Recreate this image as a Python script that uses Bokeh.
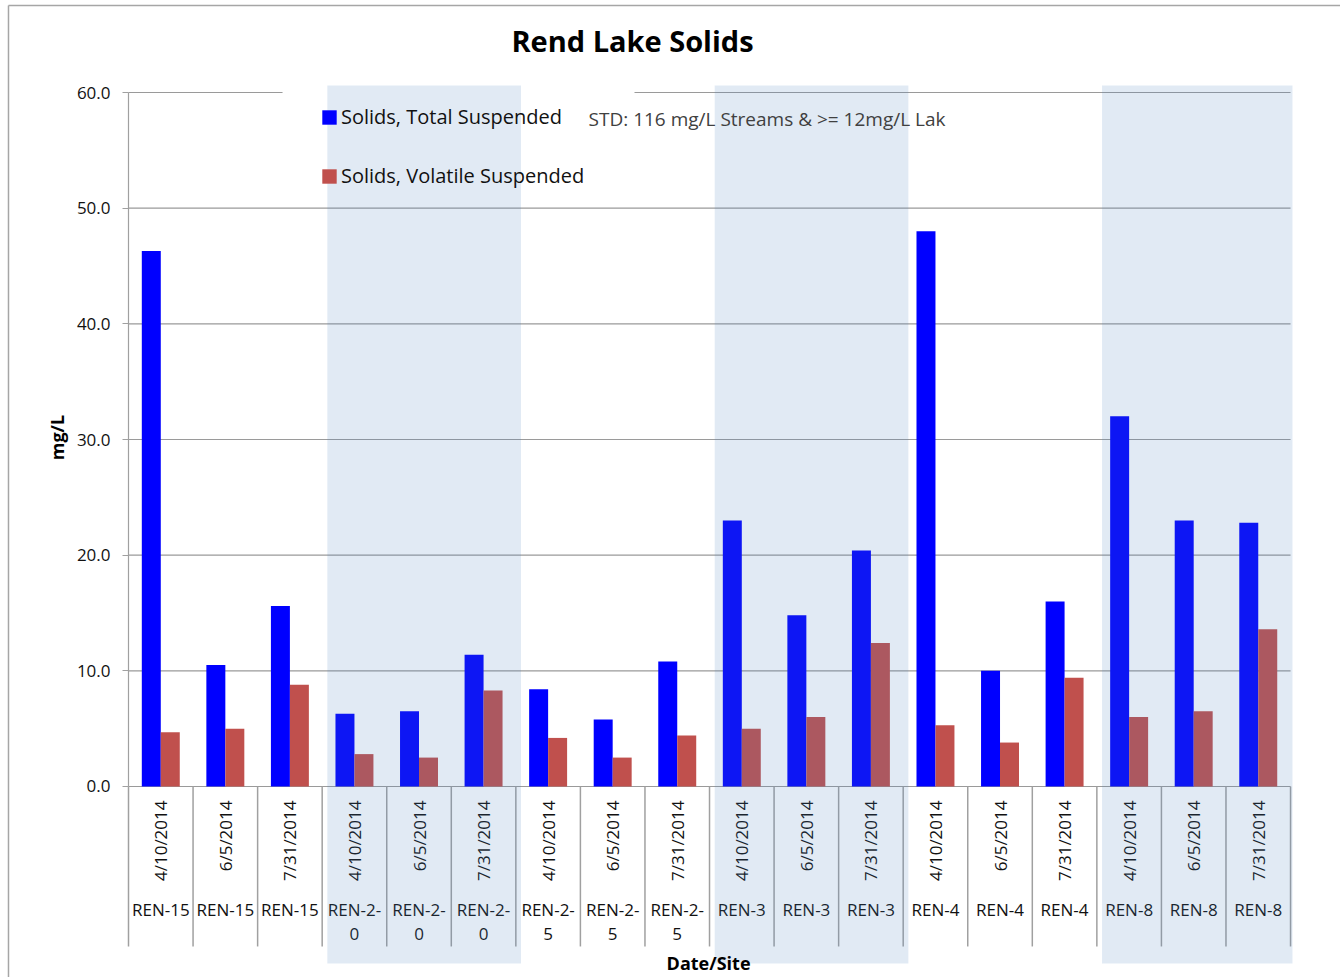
import math
from bokeh.plotting import figure
from bokeh.models import (ColumnDataSource, Range1d, FixedTicker, NumeralTickFormatter,
                          BoxAnnotation, Label, Legend, LegendItem)
from bokeh.core.properties import value
from bokeh.embed import file_html
from bokeh.resources import INLINE

sites = ["REN-15", "REN-15", "REN-15", "REN-2-\n0", "REN-2-\n0", "REN-2-\n0",
         "REN-2-\n5", "REN-2-\n5", "REN-2-\n5", "REN-3", "REN-3", "REN-3",
         "REN-4", "REN-4", "REN-4", "REN-8", "REN-8", "REN-8"]
dates = ["4/10/2014", "6/5/2014", "7/31/2014"] * 6
tss = [46.3, 10.5, 15.6, 6.3, 6.5, 11.4, 8.4, 5.8, 10.8,
       23.0, 14.8, 20.4, 48.0, 10.0, 16.0, 32.0, 23.0, 22.8]
vss = [4.7, 5.0, 8.8, 2.8, 2.5, 8.3, 4.2, 2.5, 4.4,
       5.0, 6.0, 12.4, 5.3, 3.8, 9.4, 6.0, 6.5, 13.6]
y_ticks = [0, 10, 20, 30, 40, 50, 60]
shaded_groups = [1, 3, 5]

FONT = "Open Sans"
n = len(tss)
centers = [i + 0.5 for i in range(n)]
bw = 0.294

src = ColumnDataSource(dict(
    xc=centers,
    x_tss=[c - bw / 2 for c in centers],
    x_vss=[c + bw / 2 for c in centers],
    tss=tss, vss=vss, site=sites, date=dates,
))

# the plotting frame covers the whole canvas; the value axis sits at x = 0
p = figure(width=1340, height=977, output_backend="svg", toolbar_location=None,
           x_range=Range1d(-1.9828, 18.774), y_range=Range1d(-16.513, 67.954),
           min_border=0)
p.outline_line_color = None
p.background_fill_color = "white"
p.border_fill_color = "white"

# axes
p.xaxis.visible = False
ya = p.yaxis[0]
ya.fixed_location = 0
ya.ticker = FixedTicker(ticks=y_ticks)
ya.formatter = NumeralTickFormatter(format="0.0")
ya.bounds = (0, 60)
ya.axis_line_color = "#a0a0a0"
ya.axis_line_width = 1.2
ya.major_tick_line_color = "#a0a0a0"
ya.major_tick_out = 6
ya.major_tick_in = 0
ya.minor_tick_line_color = None
ya.major_label_standoff = 12
ya.major_label_text_font = FONT
ya.major_label_text_font_size = "17px"
ya.major_label_text_color = "#111111"

p.grid.visible = False
# horizontal gridlines across the category area
p.segment(x0=[0] * len(y_ticks), x1=[n] * len(y_ticks), y0=y_ticks, y1=y_ticks,
          line_color="#9a9a9a", line_width=1.2)

# chart border (top and left)
p.segment(x0=[-1.859, -1.859], y0=[67.52, 67.52], x1=[-1.859, 18.774], y1=[-16.513, 67.52],
          line_color="#a6a6a6", line_width=1.5)

# bars
r_tss = p.vbar(x="x_tss", top="tss", width=bw, bottom=0, source=src,
               fill_color="#0000FF", line_color=None)
r_vss = p.vbar(x="x_vss", top="vss", width=bw, bottom=0, source=src,
               fill_color="#C0504D", line_color=None)

# category separators below axis
bounds_x = list(range(n + 1))
p.segment(x0=bounds_x, x1=bounds_x, y0=[0] * len(bounds_x), y1=[-13.83] * len(bounds_x),
          line_color="#a0a0a0", line_width=1.5)

# category labels
p.text(x="xc", y=-1.21, text="date", source=src, angle=math.pi / 2,
       text_align="right", text_baseline="middle", text_font=value(FONT),
       text_font_size="17px", text_color="#111111")
p.text(x="xc", y=-9.6, text="site", source=src,
       text_align="center", text_baseline="top", text_font=value(FONT),
       text_font_size="17px", text_color="#111111", text_line_height=1.05)

# legend box background (white, hides the top gridline behind the legend)
p.add_layout(BoxAnnotation(left=2.386, right=7.838, top=60.346, bottom=50.663,
                           fill_color="white", fill_alpha=1.0, line_color=None,
                           level="annotation"))

# legend
legend = Legend(items=[LegendItem(label="Solids, Total Suspended", renderers=[r_tss]),
                       LegendItem(label="Solids, Volatile Suspended", renderers=[r_vss])],
                location=(320, 788), orientation="vertical",
                glyph_width=18, glyph_height=18, label_standoff=3, spacing=32,
                padding=15, margin=0,
                label_text_font=FONT, label_text_font_size="20px", label_text_color="#111111",
                border_line_color=None, background_fill_alpha=0.0)
p.add_layout(legend, "center")

# shaded site groups (drawn over bars and legend box)
for g in shaded_groups:
    p.add_layout(BoxAnnotation(left=3 * g + 0.08, right=min(3 * g + 3 + 0.08, n + 0.03),
                               top=60.605, bottom=-15.30,
                               fill_color="#4F81BD", fill_alpha=0.17, line_color=None,
                               level="overlay"))

# texts
p.add_layout(Label(x=7.126, y=57.75, text="STD:  116 mg/L Streams & >= 12mg/L Lak",
                   text_font=FONT, text_font_size="19px", text_color="#404040",
                   text_align="left", text_baseline="middle", level="overlay"))
p.add_layout(Label(x=7.807, y=64.496, text="Rend Lake Solids", text_font=FONT,
                   text_font_size="29px", text_font_style="bold", text_color="#000000",
                   text_align="center", text_baseline="middle", level="overlay"))
p.add_layout(Label(x=-1.10, y=30.17, text="mg/L", angle=math.pi / 2, text_font=FONT,
                   text_font_size="18px", text_font_style="bold", text_color="#000000",
                   text_align="center", text_baseline="middle", level="overlay"))
p.add_layout(Label(x=8.985, y=-15.30, text="Date/Site", text_font=FONT,
                   text_font_size="18px", text_font_style="bold", text_color="#000000",
                   text_align="center", text_baseline="middle", level="overlay"))

open("out.html", "w").write(file_html(p, INLINE))
